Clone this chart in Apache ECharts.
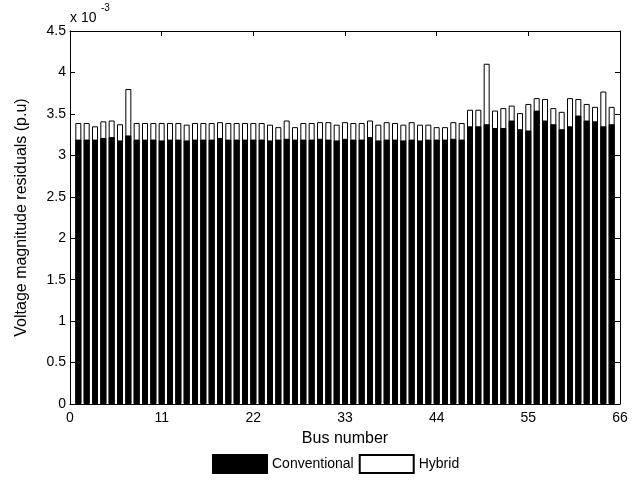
<!DOCTYPE html>
<html>
<head>
<meta charset="utf-8">
<script src="https://cdn.jsdelivr.net/npm/echarts@6/dist/echarts.min.js"></script>
<style>html,body{margin:0;padding:0;background:#fff}#c{width:644px;height:481px}</style>
</head>
<body>
<div id="c"></div>
<script>
// Values in units of 1e-3 p.u.
const buses = [];
for (let i = 1; i <= 65; i++) buses.push(i);
const conventional = [
 3.19,3.19,3.19,3.21,3.22,3.18,3.24,3.19,3.19,3.19,
 3.18,3.19,3.19,3.18,3.19,3.19,3.19,3.21,3.19,3.19,
 3.19,3.19,3.19,3.18,3.19,3.20,3.19,3.19,3.19,3.20,
 3.19,3.18,3.20,3.19,3.19,3.22,3.18,3.19,3.19,3.18,
 3.19,3.18,3.19,3.19,3.19,3.20,3.19,3.35,3.35,3.375,
 3.33,3.33,3.42,3.315,3.30,3.54,3.42,3.375,3.315,3.35,
 3.48,3.42,3.41,3.35,3.375
];
const hybrid = [
 3.39,3.39,3.35,3.41,3.42,3.375,3.80,3.39,3.39,3.39,
 3.39,3.39,3.39,3.37,3.39,3.39,3.39,3.40,3.39,3.39,
 3.39,3.39,3.39,3.37,3.34,3.42,3.34,3.39,3.39,3.40,
 3.40,3.37,3.40,3.39,3.39,3.42,3.37,3.40,3.39,3.37,
 3.40,3.37,3.37,3.34,3.34,3.40,3.39,3.55,3.55,4.105,
 3.54,3.57,3.60,3.51,3.62,3.69,3.68,3.57,3.525,3.69,
 3.68,3.62,3.585,3.77,3.585
];
const xTicks = [0, 11, 22, 33, 44, 55, 66];
const seriesNames = ['Conventional', 'Hybrid'];

const font = 'Liberation Sans, Arial, sans-serif';
const chart = echarts.init(document.getElementById('c'));
const axisCommon = {
  axisLine: {show: true, onZero: false, lineStyle: {color: '#000', width: 1}},
  axisTick: {show: true, inside: true, length: 5, lineStyle: {color: '#000'}},
  splitLine: {show: false}
};
chart.setOption({
  animation: false,
  backgroundColor: '#fff',
  grid: {left: 70, right: 24, top: 31, bottom: 77, containLabel: false},
  legend: {
    data: seriesNames,
    bottom: 7,
    left: 212,
    padding: 0,
    icon: 'rect',
    itemWidth: 54,
    itemHeight: 18,
    itemGap: 5,
    textStyle: {fontFamily: font, fontSize: 14, color: '#000'},
    selectedMode: false
  },
  xAxis: [
    Object.assign({
      type: 'value', min: xTicks[0], max: xTicks[xTicks.length - 1], interval: 11,
      name: 'Bus number', nameLocation: 'middle', nameGap: 27,
      nameTextStyle: {fontFamily: font, fontSize: 16, color: '#000'},
      axisLabel: {fontFamily: font, fontSize: 14, color: '#000', margin: 7}
    }, axisCommon),
    Object.assign({
      type: 'value', position: 'top', min: 0, max: 66, interval: 11,
      axisLabel: {show: false}
    }, axisCommon)
  ],
  yAxis: [
    Object.assign({
      type: 'value', min: 0, max: 4.5, interval: 0.5,
      name: 'Voltage magnitude residuals (p.u)', nameLocation: 'middle', nameGap: 40,
      nameTextStyle: {fontFamily: font, fontSize: 16, color: '#000'},
      axisLabel: {fontFamily: font, fontSize: 14, color: '#000', margin: 4}
    }, axisCommon),
    Object.assign({
      type: 'value', position: 'right', min: 0, max: 4.5, interval: 0.5,
      axisLabel: {show: false}
    }, axisCommon)
  ],
  graphic: [
    {type: 'text', left: 70, top: 11, style: {text: 'x 10', font: '14px ' + font, fill: '#000'}},
    {type: 'text', left: 101, top: 3, style: {text: '-3', font: '10px ' + font, fill: '#000'}}
  ],
  series: [
    {
      name: 'Hybrid', type: 'bar', barWidth: 6, barGap: '-100%',
      itemStyle: {color: '#fff', borderColor: '#000', borderWidth: 1},
      data: buses.map((b, i) => [b, hybrid[i]]), z: 2
    },
    {
      name: 'Conventional', type: 'bar', barWidth: 6, barGap: '-100%',
      itemStyle: {color: '#000', borderColor: '#000', borderWidth: 1},
      data: buses.map((b, i) => [b, conventional[i]]), z: 3
    }
  ]
});
</script>
</body>
</html>
